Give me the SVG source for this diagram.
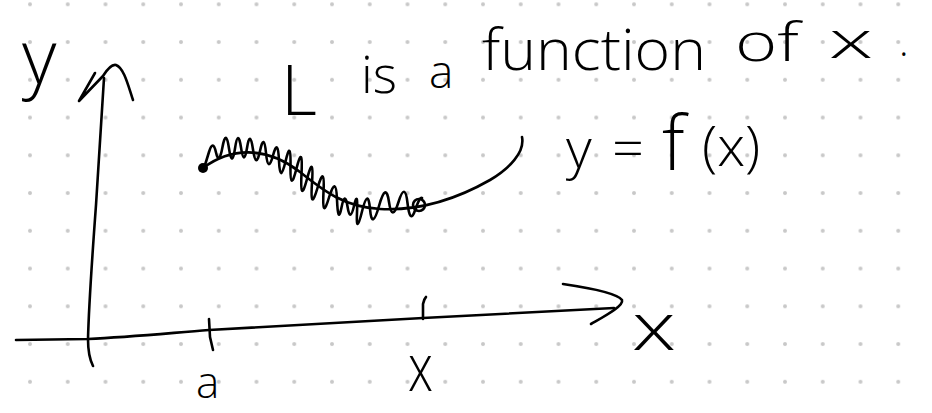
<svg xmlns="http://www.w3.org/2000/svg" width="932" height="413" viewBox="0 0 932 413">
  <style>
    .ink { fill: none; stroke: #000; stroke-width: 2.6; stroke-linecap: round; stroke-linejoin: round; }
    .hw { font-family: "Open Sans", "Liberation Sans", sans-serif; font-weight: 300; fill: #000; }
  </style>
  <defs>
    <pattern id="dots" patternUnits="userSpaceOnUse" x="11.125" y="-14.575" width="37.75" height="37.75">
      <circle cx="18.875" cy="18.875" r="2" fill="#c8c8c8"/>
    </pattern>
  </defs>
  <rect width="932" height="413" fill="#fff"/>
  <rect id="grid" width="932" height="413" fill="url(#dots)"/>

  <g id="connectors">
    <!-- y axis -->
    <path class="ink" d="M104,78 L96,205 Q89,300 88,339 Q88,356 93,366"/>
    <path class="ink" d="M95,73 L79,101 L103,76 C108,68 112,64 116,65 C124,68 128,85 133,100"/>
    <!-- x axis -->
    <path class="ink" d="M16,340 L88,339 C130,337 170,333 209,330 L423,318 L614,308"/>
    <path class="ink" d="M563,284 C590,288 618,294 622,300 C624,306 605,316 591,324"/>
    <!-- ticks -->
    <path class="ink" d="M209,319 L210,337 L213,350"/>
    <path class="ink" d="M423,319 L423,304 Q424,299 426,297"/>
  </g>

  <g id="curve">
    <path class="ink" d="M203,168 C230,148 265,145 300,172 C325,192 345,207 380,209 C420,211 455,200 490,180 C510,168 525,152 522,137"/>
    <path class="ink" stroke-width="2.4" d="M205,165 L209,152 Q213,139 216,152.5 Q219,166 222.5,147 Q226,128 229,148.5 Q232,169 235,148.5 Q238,128 241,147.5 Q244,167 247,148 Q250,129 253,149.5 Q256,170 260,151 Q264,132 266,153 Q268,174 273,155.5 Q278,137 279,161 Q280,185 285.5,161.5 Q291,138 290.5,166 Q290,194 296.5,168.5 Q303,143 301.5,174 Q300,205 307,179 Q314,153 312,183 Q310,213 317.5,188 Q325,163 323.5,192 Q322,221 329,197.5 Q336,174 337,199.5 Q338,225 341.5,207.5 Q345,190 347.5,206.5 Q350,223 354,206 Q358,189 357,212.5 Q356,236 362,211.5 Q368,187 370,209 Q372,231 379,206 Q386,181 389,202 Q392,223 398.5,202 Q405,181 407.5,203 Q410,225 415,210.5 Q420,196 422,198"/>
    <circle class="ink" stroke-width="2.4" cx="419" cy="205" r="6"/>
    <circle cx="203" cy="168" r="5" fill="#000"/>
  </g>

  <g id="labels">
    <text class="hw" x="22" y="84" font-size="75">y</text>
    <text class="hw" x="281" y="115" font-size="70">L</text>
    <text class="hw" x="361" y="93" font-size="52">is</text>
    <text class="hw" x="429" y="88" font-size="46">a</text>
    <text class="hw" x="482" y="70" font-size="57" textLength="224" lengthAdjust="spacingAndGlyphs">function</text>
    <text class="hw" x="735" y="61" font-size="54" textLength="64" lengthAdjust="spacingAndGlyphs">of</text>
    <text class="hw" x="829" y="58" font-size="52" textLength="44" lengthAdjust="spacingAndGlyphs">x</text>
    <text class="hw" x="899" y="56" font-size="40">.</text>
    <text class="hw" font-size="56"><tspan x="566" y="168">y</tspan> <tspan x="612" y="168">=</tspan> <tspan x="662" y="170" font-size="75">f</tspan><tspan x="702" y="166">(x)</tspan></text>
    <text class="hw" x="196" y="398" font-size="44">a</text>
    <text class="hw" x="408" y="391" font-size="66" textLength="25" lengthAdjust="spacingAndGlyphs">x</text>
    <text class="hw" x="632" y="350" font-size="66" textLength="44" lengthAdjust="spacingAndGlyphs">x</text>
  </g>
</svg>
